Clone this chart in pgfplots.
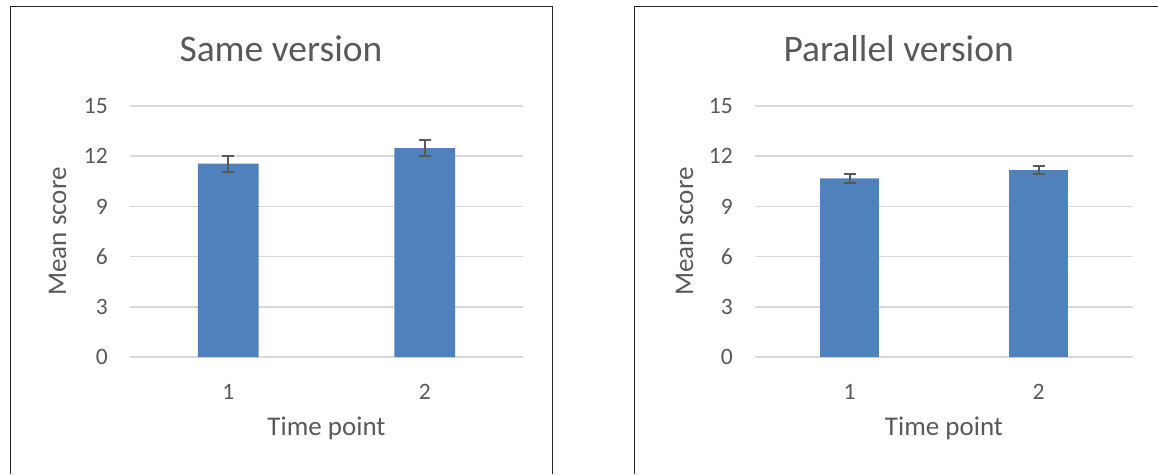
\documentclass[border=0pt]{standalone}
\usepackage{pgfplots}
\pgfplotsset{compat=1.18}
\usepackage{fontspec}
\setmainfont{Carlito}
\definecolor{txt}{HTML}{595959}
\definecolor{grd}{HTML}{D9D9D9}
\definecolor{barblue}{HTML}{4F81BD}
\pgfplotsset{
  excel/.style={
    scale only axis,
    height=251pt,
    ymin=0, ymax=15, ytick={0,3,6,9,12,15},
    xmin=0.5, xmax=2.5, xtick={1,2},
    ybar, bar width=0.31,
    axis line style={draw=none},
    major tick length=0pt,
    ymajorgrids, grid style={grd, line width=1.6pt},
    tick label style={font=\fontsize{23.5}{27}\selectfont, text=txt, inner sep=0pt},
    /pgf/number format/assume math mode=true,
    yticklabel shift=22pt,
    xticklabel shift=27pt,
    title style={font=\fontsize{37.5}{44}\selectfont, text=txt, anchor=center, inner sep=0pt},
    label style={font=\fontsize{27}{32}\selectfont, text=txt, inner sep=0pt},
  },
  errs/.style={
    fill=barblue, draw=none,
    error bars/.cd, y dir=both, y explicit,
    error bar style={txt, line width=2pt},
    error mark options={rotate=90, mark size=6pt, txt, line width=2pt},
  },
}
\begin{document}
\begin{tikzpicture}
\useasboundingbox (0,0) rectangle (1158pt,474pt);
\draw[black!85, line width=1pt] (10pt,0) -- (10pt,467pt) -- (552pt,467pt) -- (552pt,0);
\draw[black!85, line width=1pt] (634pt,0) -- (634pt,467pt) -- (1158pt,467pt);
\begin{axis}[excel,
  at={(130pt,117pt)}, anchor=south west, width=393pt,
  title={Same version},
  title style={at={(axis description cs:0.384,1.205)}},
  xlabel={Time point},
  xlabel style={at={(axis description cs:0.5,-0.283)}, anchor=center},
  ylabel={Mean score},
  ylabel style={at={(axis description cs:-0.1845,0.5)}, anchor=center},
]
\addplot[errs] coordinates {(1,11.55) +- (0,0.48) (2,12.48) +- (0,0.47)};
\end{axis}
\begin{axis}[excel,
  at={(755pt,117pt)}, anchor=south west, width=378pt,
  title={Parallel version},
  title style={at={(axis description cs:0.380,1.205)}},
  xlabel={Time point},
  xlabel style={at={(axis description cs:0.5,-0.283)}, anchor=center},
  ylabel={Mean score},
  ylabel style={at={(axis description cs:-0.1865,0.5)}, anchor=center},
]
\addplot[errs] coordinates {(1,10.67) +- (0,0.25) (2,11.17) +- (0,0.25)};
\end{axis}
\end{tikzpicture}
\end{document}
